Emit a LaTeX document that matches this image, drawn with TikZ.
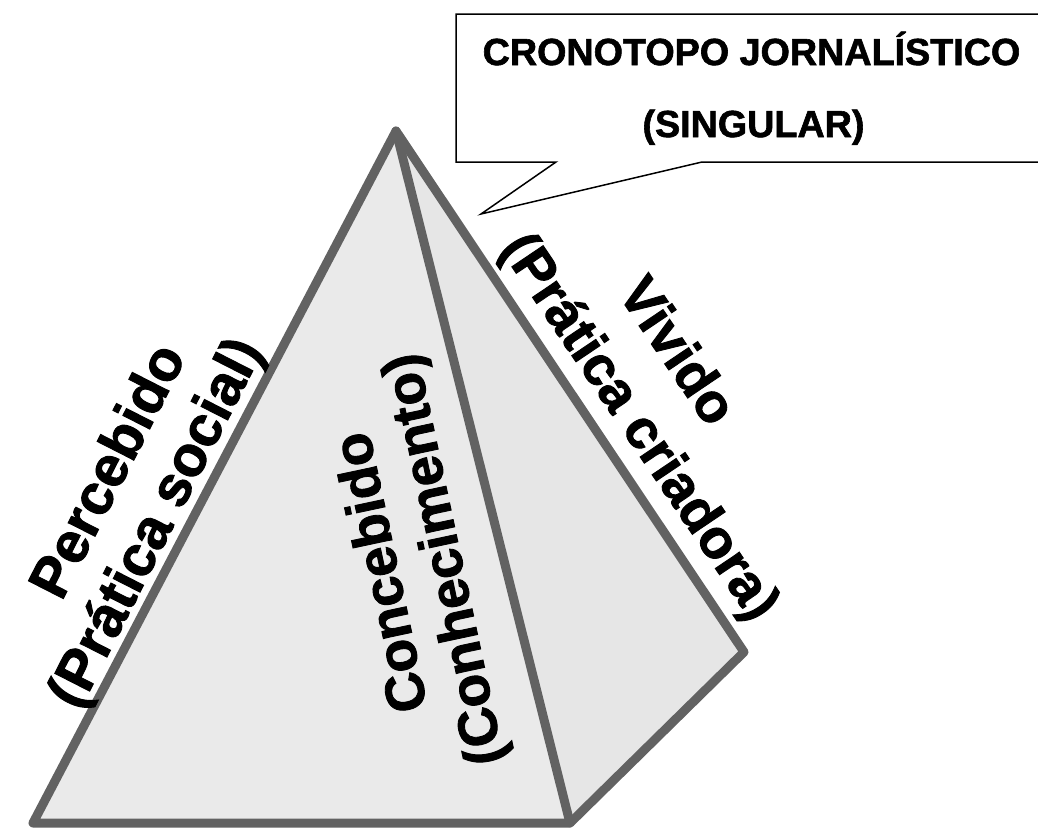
\documentclass[tikz,border=0pt]{standalone}
\usepackage{fontspec}
\setmainfont{Liberation Sans}
\newfontfamily\heavy[BoldFeatures={FakeBold=1.6}]{Liberation Sans}
\definecolor{edgegray}{RGB}{98,98,98}
\definecolor{faceL}{RGB}{234,234,234}
\definecolor{faceR}{RGB}{230,230,230}
\begin{document}
\begin{tikzpicture}[x=1pt,y=-1pt,
  edge/.style={draw=edgegray,line width=9pt,line join=round,line cap=round},
  callout/.style={draw=black,fill=white,line width=1.5pt,line join=miter},
  title/.style={font=\heavy\fontsize{37.7}{40}\selectfont\bfseries,inner sep=0pt},
  lab/.style={font=\heavy\fontsize{55}{70}\selectfont\bfseries,inner sep=0pt},
  labbig/.style={font=\heavy\fontsize{57}{70}\selectfont\bfseries,inner sep=0pt}]
\useasboundingbox (0,0) rectangle (1038,830);
\fill[white] (0,0) rectangle (1038,830);
% pyramid
\coordinate (A) at (396,131);
\coordinate (BL) at (33,823);
\coordinate (BM) at (570,823);
\coordinate (R) at (744,652);
\fill[faceL] (A) -- (BL) -- (BM) -- cycle;
\fill[faceR] (A) -- (BM) -- (R) -- cycle;
\draw[edge] (A) -- (BL) -- (BM) -- (R) -- cycle;
\draw[edge] (A) -- (BM);
% callout
\coordinate (c1) at (1050,14);
\coordinate (c2) at (456,14);
\coordinate (c3) at (456,162);
\coordinate (c4) at (556,162);
\coordinate (tip) at (481,214);
\coordinate (c5) at (702,162);
\coordinate (c6) at (1050,162);
\draw[callout] (c1) -- (c2) -- (c3) -- (c4) -- (tip) -- (c5) -- (c6);
\node[title,anchor=base] (t1) at (751.5,65) {CRONOTOPO JORNALÍSTICO};
\node[title,anchor=base] (t2) at (753.5,137) {(SINGULAR)};
% labels
\node[labbig,rotate=63] (perc1) at (106,470) {Percebido};
\node[labbig,rotate=63] (perc2) at (158,524) {(Prática social)};
\node[lab,rotate=102] (conc1) at (379,573) {Concebido};
\node[lab,rotate=102] (conc2) at (447,559) {(Conhecimento)};
\node[lab,rotate=-56] (viv1) at (679,350) {Vivido};
\node[lab,rotate=-56] (viv2) at (638,428) {(Prática criadora)};
\end{tikzpicture}
\end{document}
